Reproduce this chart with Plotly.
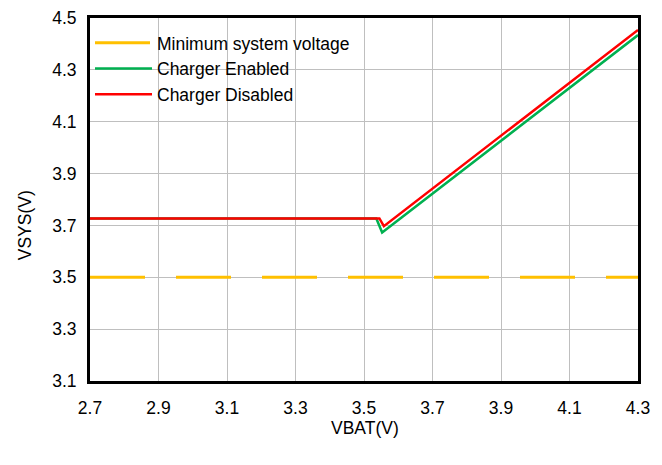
import plotly.graph_objects as go

# ---- data ----
vbat_min = [2.7, 4.3]
vsys_min = [3.5, 3.5]

vbat_enabled = [2.7, 3.536, 3.553, 4.3]
vsys_enabled = [3.727, 3.727, 3.673, 4.434]

vbat_disabled = [2.7, 3.545, 3.558, 4.3]
vsys_disabled = [3.727, 3.727, 3.697, 4.454]

x_ticks = [2.7, 2.9, 3.1, 3.3, 3.5, 3.7, 3.9, 4.1, 4.3]
y_ticks = [3.1, 3.3, 3.5, 3.7, 3.9, 4.1, 4.3, 4.5]

FONT = "Arial, Liberation Sans, sans-serif"

fig = go.Figure()
fig.add_trace(go.Scatter(x=vbat_min, y=vsys_min, mode="lines",
                         name="Minimum system voltage",
                         line=dict(color="#FFC000", width=3, dash="55px,31px")))
fig.add_trace(go.Scatter(x=vbat_enabled, y=vsys_enabled, mode="lines",
                         name="Charger Enabled",
                         line=dict(color="#00B050", width=2.5)))
fig.add_trace(go.Scatter(x=vbat_disabled, y=vsys_disabled, mode="lines",
                         name="Charger Disabled",
                         line=dict(color="#FF0000", width=2.5)))

axis_common = dict(showgrid=True, gridcolor="#BFBFBF", gridwidth=1,
                   showline=True, linecolor="black", linewidth=3, mirror=True,
                   ticks="", zeroline=False, automargin=False,
                   tickfont=dict(family=FONT, size=17.5, color="black"))

fig.update_xaxes(range=[2.7, 4.3], tickvals=x_ticks,
                 ticktext=[f"{v:.1f}" for v in x_ticks],
                 ticklabelstandoff=9, **axis_common)
fig.update_yaxes(range=[3.1, 4.5], tickvals=y_ticks,
                 ticktext=[f"{v:.1f}" for v in y_ticks],
                 ticklabelstandoff=7, **axis_common)

fig.update_layout(
    width=662, height=465,
    margin=dict(l=90, r=24, t=18, b=84),
    paper_bgcolor="white", plot_bgcolor="white",
    font=dict(family=FONT, size=17.5, color="black"),
    showlegend=True,
    legend=dict(x=0.0, y=0.981, xanchor="left", yanchor="top",
                bgcolor="rgba(0,0,0,0)", borderwidth=0,
                font=dict(family=FONT, size=17.5, color="black"),
                itemwidth=57, tracegroupgap=0),
    annotations=[
        dict(text="VSYS(V)", xref="paper", yref="paper",
             x=-0.118, y=0.43, textangle=-90, showarrow=False,
             xanchor="center", yanchor="middle",
             font=dict(family=FONT, size=17.5, color="black")),
        dict(text="VBAT(V)", xref="paper", yref="paper",
             x=0.502, y=-0.13, showarrow=False,
             xanchor="center", yanchor="middle",
             font=dict(family=FONT, size=17.5, color="black")),
    ],
)

fig.write_html("out.html",
               config={"displayModeBar": False},
               post_script="document.body.style.margin='0';document.body.style.padding='0';")
